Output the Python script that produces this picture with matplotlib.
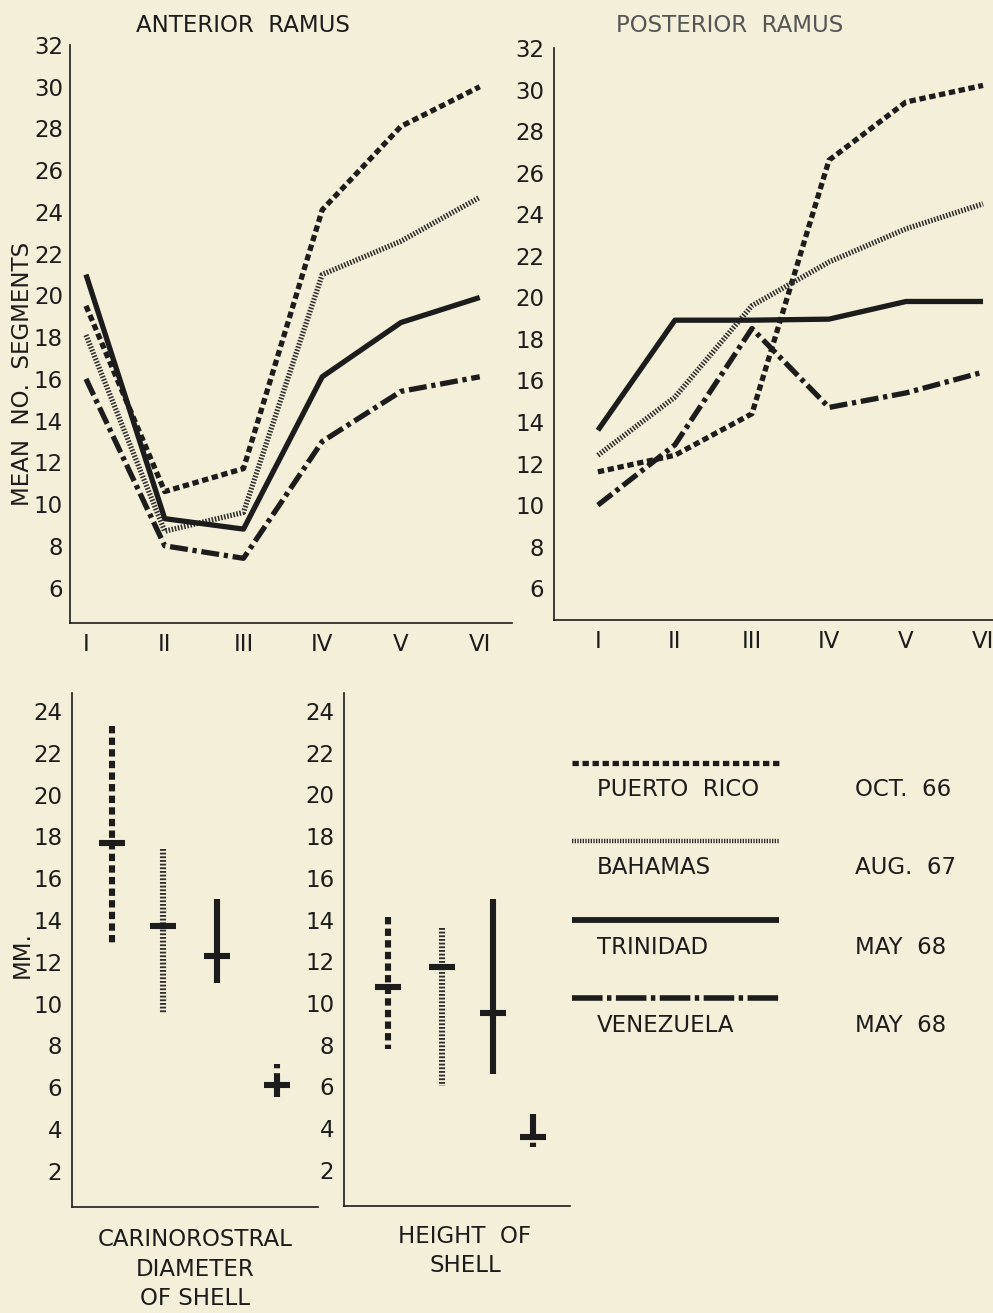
import matplotlib.pyplot as plt

W, H = 993, 1313
BG = '#f4efd8'
INK = '#1c1c1c'
plt.rcParams['font.family'] = ['DejaVu Sans']

stages = ['I', 'II', 'III', 'IV', 'V', 'VI']
stage_pos = [1, 2, 3, 4, 5, 6]

# mean no. of segments, anterior ramus
ant_puerto_rico = [19.5, 10.6, 11.7, 24.1, 28.1, 30.0]
ant_bahamas = [18.1, 8.7, 9.6, 21.0, 22.6, 24.7]
ant_trinidad = [21.0, 9.3, 8.8, 16.1, 18.7, 19.9]
ant_venezuela = [16.0, 8.0, 7.4, 13.0, 15.4, 16.1]

# mean no. of segments, posterior ramus
post_puerto_rico = [11.6, 12.4, 14.4, 26.6, 29.4, 30.2]
post_bahamas = [12.4, 15.2, 19.6, 21.7, 23.3, 24.5]
post_trinidad = [13.6, 18.9, 18.9, 18.95, 19.8, 19.8]
post_venezuela = [10.0, 12.9, 18.5, 14.7, 15.4, 16.4]

# shell size in mm: low, mean, high  (PR, Bahamas, Trinidad, Venezuela)
diam_low = [12.8, 9.5, 11.0, 5.5]
diam_mean = [17.7, 13.7, 12.3, 6.1]
diam_high = [23.3, 17.4, 15.0, 7.1]
height_low = [7.8, 6.0, 6.6, 3.05]
height_mean = [10.75, 11.75, 9.5, 3.6]
height_high = [14.1, 13.6, 15.0, 4.7]

localities = ['PUERTO  RICO', 'BAHAMAS', 'TRINIDAD', 'VENEZUELA']
dates = ['OCT.  66', 'AUG.  67', 'MAY  68', 'MAY  68']

styles = [
    dict(color=INK, lw=3.8, dashes=(1.2, 0.7)),
    dict(color='#2e2e2e', lw=3.8, dashes=(0.3, 0.3)),
    dict(color=INK, lw=3.8, solid_capstyle='butt'),
    dict(color=INK, lw=3.8, dashes=(3.4, 0.9, 0.8, 0.9)),
]

fig = plt.figure(figsize=(W / 100, H / 100), dpi=100, facecolor=BG)


def px_axes(x0, y0, x1, y1):
    # axes from pixel box (left, top, right, bottom)
    ax = fig.add_axes([x0 / W, 1 - y1 / H, (x1 - x0) / W, (y1 - y0) / H])
    ax.set_facecolor('none')
    for s in ['top', 'right']:
        ax.spines[s].set_visible(False)
    for s in ['left', 'bottom']:
        ax.spines[s].set_linewidth(1.2)
        ax.spines[s].set_color(INK)
    ax.tick_params(length=0, labelsize=16.5, labelcolor=INK, pad=5)
    return ax


# top charts
ax1 = px_axes(70, 45, 512, 623)
ax1.set_xlim(0.797, 6.41)
ax1.set_ylim(4.3, 32.0)
for vals, st in zip([ant_puerto_rico, ant_bahamas, ant_trinidad, ant_venezuela], styles):
    ax1.plot(stage_pos, vals, **st)

ax2 = px_axes(554, 48, 1010, 620)
ax2.set_xlim(0.43, 6.35)
ax2.set_ylim(4.47, 31.76)
for vals, st in zip([post_puerto_rico, post_bahamas, post_trinidad, post_venezuela], styles):
    ax2.plot(stage_pos, vals, **st)

for ax in (ax1, ax2):
    ax.set_xticks(stage_pos, stages)
    ax.set_yticks(range(6, 33, 2))
    ax.tick_params(axis='x', pad=7)
ax2.tick_params(axis='y', pad=7)

# bottom charts
ax3 = px_axes(72, 693, 318, 1207)
ax3.set_xlim(0, 5)
ax3.set_ylim(0.27, 24.86)
pos3 = [0.81, 1.85, 2.95, 4.17]

ax4 = px_axes(344, 693, 570, 1206)
ax4.set_xlim(0, 5)
ax4.set_ylim(0.27, 24.86)
pos4 = [0.97, 2.17, 3.30, 4.18]

for ax, pos, lo, mid, hi, px_per in [(ax3, pos3, diam_low, diam_mean, diam_high, 246 / 5),
                                     (ax4, pos4, height_low, height_mean, height_high, 226 / 5)]:
    ax.set_xticks([])
    ax.set_yticks(range(2, 25, 2))
    ax.tick_params(axis='y', pad=7)
    hw = 13 / px_per
    for i, st in enumerate(styles):
        st = dict(st)
        st['lw'] = 4.4
        if i == 3:
            st.pop('dashes')
            if ax is ax3:
                # dot on top, then the bar
                st['linestyle'] = (4.7, (3.9, 0.8, 0.7, 0.8))
            else:
                # bar on top, dot below
                st['linestyle'] = (0, (3.9, 0.8, 0.7, 0.8))
        ax.plot([pos[i], pos[i]], [hi[i], lo[i]], **st)
        ax.hlines(mid[i], pos[i] - hw, pos[i] + hw, color=INK, lw=4.4)

# overlay for titles, axis names and key
ov = fig.add_axes([0, 0, 1, 1], zorder=-1)
ov.set_xlim(0, W)
ov.set_ylim(H, 0)
ov.axis('off')

fs = 16.5
ov.text(243, 25, 'ANTERIOR  RAMUS', ha='center', va='center', fontsize=fs, color=INK)
ov.text(730, 25, 'POSTERIOR  RAMUS', ha='center', va='center', fontsize=fs, color='#555555')
ov.text(23, 374, 'MEAN  NO.  SEGMENTS', ha='center', va='center', rotation=90, fontsize=fs, color=INK)
ov.text(22, 955, 'MM.', ha='center', va='center', rotation=90, fontsize=fs, color=INK)
ov.text(195, 1269, 'CARINOROSTRAL\nDIAMETER\nOF SHELL', ha='center', va='center',
        fontsize=fs, color=INK, linespacing=1.35)
ov.text(465, 1251, 'HEIGHT  OF\nSHELL', ha='center', va='center',
        fontsize=fs, color=INK, linespacing=1.35)

key_y = [763, 841, 920, 998]
key_styles = [
    dict(color=INK, lw=3.8, dashes=(1.2, 0.7)),
    dict(color='#2e2e2e', lw=3.2, dashes=(0.3, 0.3)),
    dict(color=INK, lw=4.2, solid_capstyle='butt'),
    dict(color=INK, lw=4.0, dashes=(5.5, 0.8, 0.8, 0.8)),
]
for y, name, date, st in zip(key_y, localities, dates, key_styles):
    ov.plot([572, 779], [y, y], **st)
    ov.text(597, y + 27, name, ha='left', va='center', fontsize=fs, color=INK)
    ov.text(855, y + 27, date, ha='left', va='center', fontsize=fs, color=INK)

fig.savefig('out.png', dpi=100, facecolor=BG)
